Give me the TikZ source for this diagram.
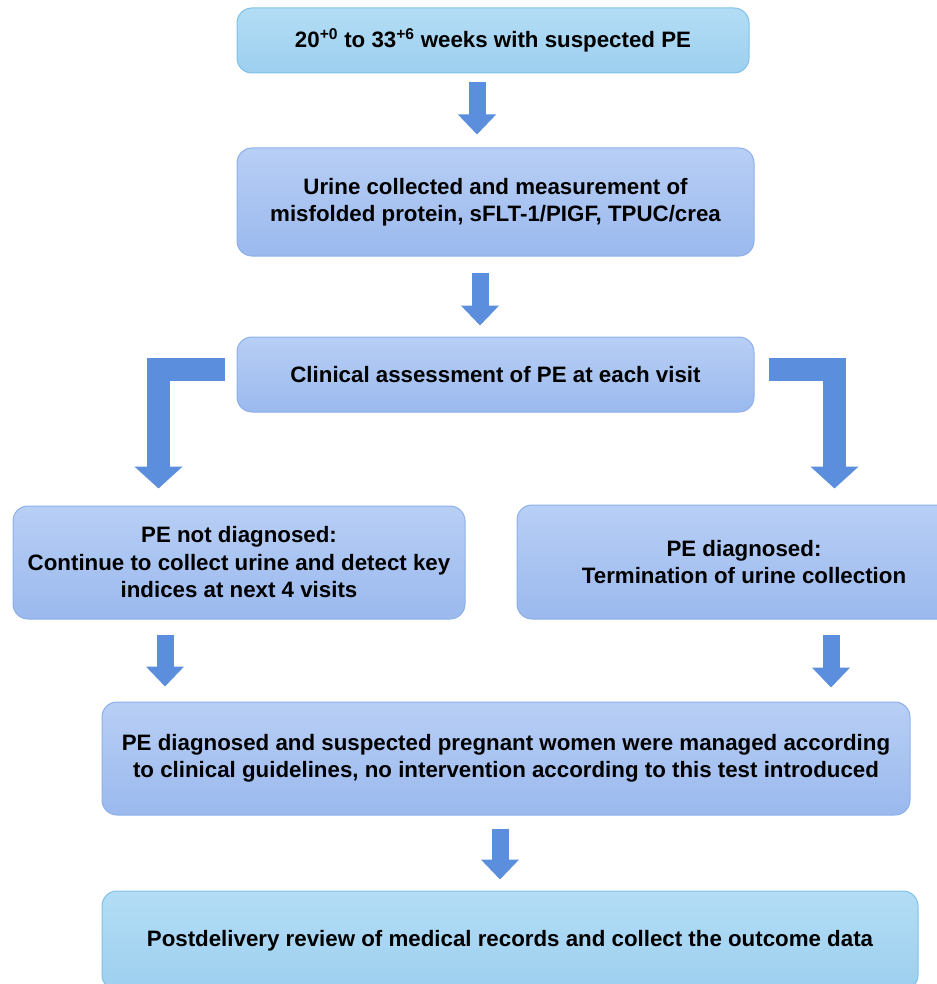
\documentclass[tikz,border=0pt]{standalone}
\usepackage{fontspec}
\setmainfont{Liberation Sans}
\usetikzlibrary{arrows.meta}

\definecolor{cyanfill}{HTML}{B3DDF5}
\definecolor{cyanfillb}{HTML}{9DCFEF}
\definecolor{cyanline}{HTML}{7FC1EA}
\definecolor{bluefill}{HTML}{B8CFF5}
\definecolor{bluefillb}{HTML}{9BB9EE}
\definecolor{blueline}{HTML}{8EB0EA}
\definecolor{arrowblue}{HTML}{5B8EDC}

\begin{document}
\begin{tikzpicture}[
    x=1pt, y=-1pt,
    cyanbox/.style={rectangle, rounded corners=15pt, draw=cyanline, line width=1pt, top color=cyanfill, bottom color=cyanfillb, align=center, inner sep=0pt, font=\fontsize{22.3}{27.5}\selectfont\bfseries},
    bluebox/.style={cyanbox, draw=blueline, top color=bluefill, bottom color=bluefillb},
    flow/.style={draw=arrowblue, line width=17pt, -{Triangle[length=20pt, width=37pt, fill=arrowblue]}},
    bentflow/.style={draw=arrowblue, line width=23pt, line join=miter, -{Triangle[length=22pt, width=47pt, fill=arrowblue]}}
]
\useasboundingbox (0,0) rectangle (936,984);

% boxes
\node[cyanbox, minimum width=512pt, minimum height=65pt] (weeks) at (493, 40.5) {20\textsuperscript{+0} to 33\textsuperscript{+6} weeks with suspected PE};
\node[bluebox, minimum width=517pt, minimum height=108pt] (urine) at (495.5, 202) {Urine collected and measurement of\\misfolded protein, sFLT-1/PIGF, TPUC/crea};
\node[bluebox, minimum width=517pt, minimum height=75pt] (assess) at (495.5, 374.5) {Clinical assessment of PE at each visit};
\node[bluebox, minimum width=452pt, minimum height=113pt] (notpe) at (239, 562.5) {PE not diagnosed:\\Continue to collect urine and detect key\\indices at next 4 visits};
\node[bluebox, minimum width=454pt, minimum height=114pt] (ispe) at (744, 562) {PE diagnosed:\\ Termination of urine collection};
\node[bluebox, minimum width=808pt, minimum height=113pt] (managed) at (506, 758.5) {PE diagnosed and suspected pregnant women were managed according\\to clinical guidelines, no intervention according to this test introduced};
\node[cyanbox, minimum width=816pt, minimum height=99pt] (review) at (510, 940.5) {Postdelivery review of medical records and collect the outcome data};

% straight arrows
\draw[flow, shorten <=9pt, shorten >=13pt] ([xshift=-16pt]weeks.south) -- ([xshift=-16pt]weeks.south |- urine.north);
\draw[flow, shorten <=16pt, shorten >=11pt] ([xshift=-15.5pt]urine.south) -- ([xshift=-15.5pt]urine.south |- assess.north);
\draw[flow, shorten <=15pt, shorten >=15pt] ([xshift=-74pt]notpe.south) -- ([xshift=-74pt]notpe.south |- managed.north);
\draw[flow, shorten <=15pt, shorten >=14pt] ([xshift=87pt]ispe.south) -- ([xshift=87pt]ispe.south |- managed.north);
\draw[flow, shorten <=13pt, shorten >=11pt] ([xshift=-6pt]managed.south) -- ([xshift=-6pt]managed.south |- review.north);

% bent arrows
\coordinate (lbend) at (158.5, 369);
\coordinate (rbend) at (834.5, 369);
\draw[bentflow, shorten >=17pt] ([xshift=-12pt]assess.west |- lbend) -- (lbend) -- (lbend |- notpe.north);
\draw[bentflow, shorten >=16pt] ([xshift=14pt]assess.east |- rbend) -- (rbend) -- (rbend |- ispe.north);

\end{tikzpicture}
\end{document}
